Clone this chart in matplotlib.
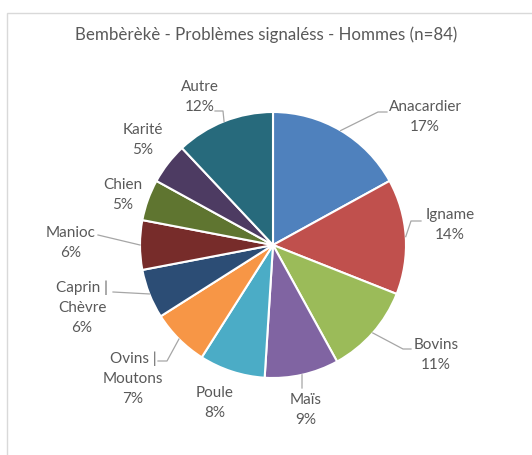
import numpy as np
import matplotlib.pyplot as plt
from matplotlib.patches import Rectangle

# data
labels = ['Anacardier', 'Igname', 'Bovins', 'Maïs', 'Poule', 'Ovins |\nMoutons',
          'Caprin |\nChèvre', 'Manioc', 'Chien', 'Karité', 'Autre']
pct = [17, 14, 11, 9, 8, 7, 6, 6, 5, 5, 12]
colors = ['#4F81BD', '#C0504D', '#9BBB59', '#8064A2', '#4BACC6', '#F79646',
          '#2C4D75', '#772C2A', '#5F7530', '#4D3B62', '#276A7C']
title = 'Bembèrèkè - Problèmes signaléss - Hommes (n=84)'

W, H = 532, 456
cx, cy, r = 273, H - 246, 133

# label placement (pixel coords, y from top) and leader elbows
lab_xy = [(425, 117), (450, 225), (436, 355), (306, 410), (215, 403), (133, 379),
          (82, 308), (71, 243), (123, 195), (143, 140), (200, 97)]
leaders = {0: [(378, 113), (387, 113)],
           1: [(411, 222), (421, 222)],
           2: [(403, 350), (411, 350)],
           3: [(302, 389)],
           5: [(167, 362), (158, 362)],
           6: [(113, 293)],
           7: [(98, 236)],
           10: [(223, 112), (215, 112)]}

fig = plt.figure(figsize=(W / 100, H / 100), dpi=100)
ax = fig.add_axes([0, 0, 1, 1])
wedges, _ = ax.pie(pct, colors=colors, startangle=90, counterclock=False,
                   center=(cx, cy), radius=r,
                   wedgeprops=dict(edgecolor='white', linewidth=1.5))
ax.set_xlim(0, W)
ax.set_ylim(0, H)
ax.set_aspect('equal')
ax.axis('off')

ax.add_patch(Rectangle((7, -10), 600, H - 14 + 10, fill=False,
                       edgecolor='#D9D9D9', linewidth=1))

txtc = '#595959'
font = 'Lato'
for i, w in enumerate(wedges):
    x, y = lab_xy[i]
    ax.text(x, H - y, f'{labels[i]}\n{pct[i]}%', ha='center', va='center',
            fontsize=11, color=txtc, family=font, linespacing=1.55)
    if i in leaders:
        a = np.deg2rad((w.theta1 + w.theta2) / 2)
        pts = [(cx + r * np.cos(a), cy + r * np.sin(a))] + \
              [(px, H - py) for px, py in leaders[i]]
        xs, ys = zip(*pts)
        ax.plot(xs, ys, color='#A6A6A6', linewidth=0.9)

ax.text(266, H - 35, title, ha='center', va='center', fontsize=12.2,
        color=txtc, family=font)

fig.savefig('out.png', dpi=100)
